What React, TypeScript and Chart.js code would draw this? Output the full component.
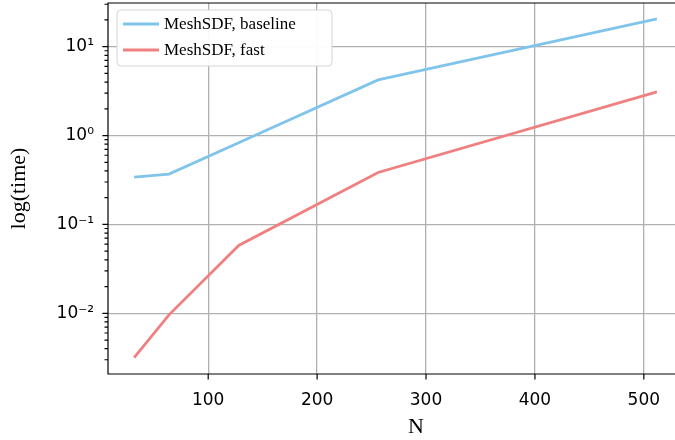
import React, { useEffect, useRef } from "react";
import { Chart, registerables } from "chart.js";

Chart.register(...registerables);

const nValues = [32, 64, 128, 256, 512];
const baselineTimes = [0.34, 0.368, 0.83, 4.23, 20.5];
const fastTimes = [0.00318, 0.0096, 0.058, 0.384, 3.1];
const xTickValues = [100, 200, 300, 400, 500];
const yTickValues = [0.01, 0.1, 1, 10];
const seriesLabels = ["MeshSDF, baseline", "MeshSDF, fast"];
const seriesColors = ["#80c4ec", "#f08080"];

const SUP: Record<string, string> = { "-": "⁻", "0": "⁰", "1": "¹", "2": "²", "3": "³" };
const supStr = (n: number) => String(n).split("").map((c) => SUP[c] || c).join("");

const framePlugin = {
  id: "frameAndTicks",
  afterDraw(chart: any) {
    const { ctx, chartArea } = chart;
    const { left, right, top, bottom } = chartArea;
    const xs = chart.scales.x;
    const ys = chart.scales.y;
    ctx.save();
    ctx.strokeStyle = "#000";
    ctx.lineWidth = 1.2;
    ctx.beginPath();
    xTickValues.forEach((v) => {
      const px = xs.getPixelForValue(v);
      ctx.moveTo(px, bottom);
      ctx.lineTo(px, bottom + 5.6);
    });
    for (let k = -3; k <= 2; k++) {
      for (let m = 1; m <= 9; m++) {
        const v = m * Math.pow(10, k);
        if (v < ys.min || v > ys.max) continue;
        const py = ys.getPixelForValue(v);
        const len = m === 1 ? 5.6 : 3.5;
        ctx.moveTo(left - len, py);
        ctx.lineTo(left, py);
      }
    }
    ctx.stroke();
    // spines: left, top, bottom (right spine lies outside the visible picture)
    ctx.beginPath();
    ctx.moveTo(right + 10, top);
    ctx.lineTo(left, top);
    ctx.lineTo(left, bottom);
    ctx.lineTo(right + 10, bottom);
    ctx.stroke();

    // legend
    const bx = left + 9;
    const by = top + 7;
    const bw = 215;
    const bh = 56;
    const r = 4;
    ctx.beginPath();
    ctx.moveTo(bx + r, by);
    ctx.lineTo(bx + bw - r, by);
    ctx.quadraticCurveTo(bx + bw, by, bx + bw, by + r);
    ctx.lineTo(bx + bw, by + bh - r);
    ctx.quadraticCurveTo(bx + bw, by + bh, bx + bw - r, by + bh);
    ctx.lineTo(bx + r, by + bh);
    ctx.quadraticCurveTo(bx, by + bh, bx, by + bh - r);
    ctx.lineTo(bx, by + r);
    ctx.quadraticCurveTo(bx, by, bx + r, by);
    ctx.closePath();
    ctx.fillStyle = "rgba(255,255,255,0.95)";
    ctx.fill();
    ctx.strokeStyle = "#d4d4d4";
    ctx.lineWidth = 1;
    ctx.stroke();
    chart.data.datasets.forEach((ds: any, i: number) => {
      const ly = by + 14 + i * 26;
      ctx.beginPath();
      ctx.strokeStyle = ds.borderColor;
      ctx.lineWidth = 2.8;
      ctx.moveTo(bx + 6, ly);
      ctx.lineTo(bx + 42, ly);
      ctx.stroke();
      ctx.fillStyle = "#000";
      ctx.font = "17px 'Liberation Serif'";
      ctx.textBaseline = "middle";
      ctx.textAlign = "left";
      ctx.fillText(ds.label, bx + 47, ly + 1);
    });
    ctx.restore();
  },
};

export default function App() {
  const ref = useRef<HTMLCanvasElement | null>(null);
  useEffect(() => {
    if (!ref.current) return;
    const chart = new Chart(ref.current, {
      type: "line",
      data: {
        datasets: [
          {
            label: seriesLabels[0],
            data: nValues.map((n, i) => ({ x: n, y: baselineTimes[i] })),
            borderColor: seriesColors[0],
            backgroundColor: seriesColors[0],
            borderWidth: 2.8,
            pointRadius: 0,
            tension: 0,
          },
          {
            label: seriesLabels[1],
            data: nValues.map((n, i) => ({ x: n, y: fastTimes[i] })),
            borderColor: seriesColors[1],
            backgroundColor: seriesColors[1],
            borderWidth: 2.8,
            pointRadius: 0,
            tension: 0,
          },
        ],
      },
      options: {
        animation: false,
        responsive: false,
        layout: { padding: { left: 0, right: 16, top: 3, bottom: 0 } },
        plugins: { legend: { display: false }, tooltip: { enabled: false } },
        scales: {
          x: {
            type: "linear",
            min: 8,
            max: 573.6,
            afterBuildTicks: (s: any) => {
              s.ticks = xTickValues.map((value) => ({ value }));
            },
            afterFit: (s: any) => {
              s.height = 66;
              s.paddingLeft = 0;
              s.paddingRight = 0;
            },
            grid: { color: "#b0b0b0", lineWidth: 1.3, drawTicks: false },
            border: { display: false },
            ticks: {
              font: { family: "'DejaVu Sans'", size: 17 },
              color: "#000",
              padding: 16,
              maxRotation: 0,
              autoSkip: false,
            },
            title: {
              display: true,
              text: "N",
              font: { family: "'Liberation Serif'", size: 22 },
              color: "#000",
              padding: { top: 0, bottom: 0 },
            },
          },
          y: {
            type: "logarithmic",
            min: 0.002075,
            max: 31.0,
            afterBuildTicks: (s: any) => {
              s.ticks = yTickValues.map((value) => ({ value, major: true }));
            },
            afterFit: (s: any) => {
              s.width = 108;
              s.paddingTop = 0;
              s.paddingBottom = 0;
            },
            grid: { color: "#b0b0b0", lineWidth: 1.3, drawTicks: false },
            border: { display: false },
            ticks: {
              font: { family: "'DejaVu Sans'", size: 17 },
              color: "#000",
              padding: 14,
              autoSkip: false,
              callback: (v: any) => "10" + supStr(Math.round(Math.log10(Number(v)))),
            },
            title: {
              display: true,
              text: "log(time)",
              font: { family: "'Liberation Serif'", size: 22 },
              color: "#000",
              padding: { top: 6, bottom: 6 },
            },
          },
        },
      },
      plugins: [framePlugin],
    });
    return () => chart.destroy();
  }, []);
  return (
    <div
      style={{
        position: "fixed",
        left: 0,
        top: 0,
        width: 675,
        height: 440,
        overflow: "hidden",
        background: "#fff",
      }}
    >
      <canvas ref={ref} width={740} height={440} style={{ width: 740, height: 440, display: "block" }} />
    </div>
  );
}
